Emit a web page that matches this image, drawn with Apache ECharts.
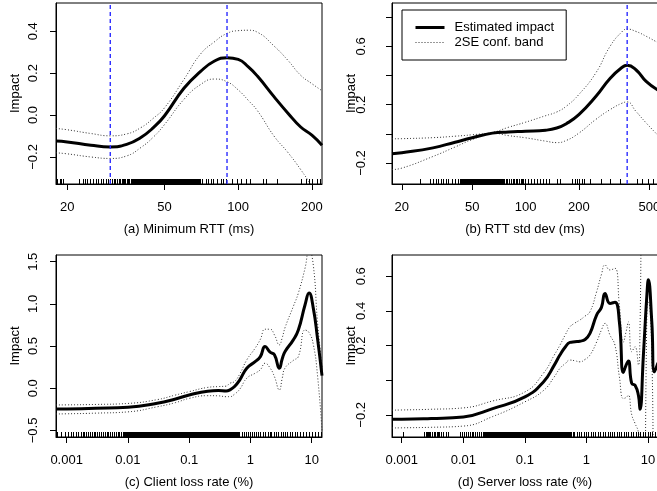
<!DOCTYPE html>
<html><head><meta charset="utf-8">
<script src="https://cdn.jsdelivr.net/npm/echarts@6/dist/echarts.min.js"></script>
<style>html,body{margin:0;padding:0;background:#fff}#c{width:657px;height:491px}</style>
</head><body><div id="c"></div>
<script>
// ---------- Panel (a) Minimum RTT ----------
const titleA = '(a) Minimum RTT (ms)';
const xA   = [18, 20, 25, 30, 35, 40, 45, 50, 60, 70, 80, 90, 100, 110, 120, 140, 160, 180, 200, 220];
const estA = [-0.124, -0.128, -0.144, -0.152, -0.14, -0.107, -0.06, -0.003, 0.128, 0.207, 0.258, 0.274, 0.266, 0.23, 0.185, 0.088, 0.008, -0.057, -0.096, -0.144];
const upA  = [-0.064, -0.07, -0.088, -0.099, -0.09, -0.06, -0.015, 0.035, 0.17, 0.29, 0.35, 0.39, 0.403, 0.405, 0.395, 0.33, 0.26, 0.19, 0.15, 0.116];
const loA  = [-0.18, -0.185, -0.2, -0.207, -0.195, -0.155, -0.105, -0.045, 0.075, 0.145, 0.172, 0.159, 0.12, 0.07, 0.02, -0.1, -0.18, -0.26, -0.34, -0.42];
const rugA = [18.0, 18.2, 18.7, 18.9, 19.3, 22.4, 23.1, 23.6, 24.2, 24.8, 25.4, 26.2, 26.8, 27.5, 28.1, 28.8, 29.4, 30.0, 30.5, 31.0, 31.5, 32.0, 32.5, 33.0, 33.6, 34.1, 34.6, 35.2, 35.7, 36.3, 36.8, 37.3, 37.8, 38.2, 38.7, 39.1, 39.6, 40.0, 40.5, 41.0, 41.5, 42.0, 42.5, 43.0, 43.5, 44.0, 44.5, 45.0, 45.5, 46.0, 46.5, 47.0, 47.5, 48.0, 48.6, 49.2, 49.8, 50.4, 51.0, 51.6, 52.2, 52.8, 53.4, 54.0, 54.6, 55.2, 55.8, 56.5, 57.2, 57.9, 58.6, 59.3, 60.0, 60.7, 61.4, 62.1, 62.8, 63.5, 64.2, 65.0, 65.8, 66.6, 67.4, 68.2, 69.0, 69.8, 71.3, 73.6, 75.2, 77.2, 79.1, 82.1, 84.8, 86.6, 88.9, 94.6, 98.5, 102.3, 107.3, 111.6, 126.6, 129.4, 143.5, 179.9, 188.5, 194.4, 200.6, 210.3, 215.8];
const refA = [30, 90];
const xTicksA = [20, 50, 100, 200];
const xLabelsA = ['20', '50', '100', '200'];
const yTicksA = [-0.2, 0, 0.2, 0.4];
const yLabelVA = [-0.2, 0, 0.2, 0.4];
const yLabelsA = ['\u22120.2', '0.0', '0.2', '0.4'];

// ---------- Panel (b) RTT std dev ----------
const titleB = '(b) RTT std dev (ms)';
const xB   = [17.6, 20, 30, 40, 50, 65, 80, 100, 130, 150, 170, 200, 250, 300, 350, 375, 420, 480, 560];
const estB = [-0.137, -0.13, -0.096, -0.057, -0.027, 0.005, 0.013, 0.018, 0.025, 0.04, 0.07, 0.132, 0.258, 0.38, 0.455, 0.47, 0.44, 0.36, 0.3];
const upB  = [-0.034, -0.033, -0.026, -0.016, -0.006, 0.01, 0.045, 0.08, 0.125, 0.15, 0.19, 0.27, 0.42, 0.6, 0.7, 0.719, 0.703, 0.67, 0.625];
const loB  = [-0.245, -0.235, -0.155, -0.09, -0.039, 0.005, -0.012, -0.027, -0.05, -0.06, -0.045, 0.005, 0.1, 0.166, 0.21, 0.219, 0.155, 0.075, -0.01];
const rugB = [25.3, 28.8, 30.1, 31.1, 32.1, 33.1, 34.2, 35.5, 36.5, 38.2, 39.9, 41.6, 42.5, 43.2, 43.9, 44.6, 45.3, 46.0, 46.7, 47.4, 48.2, 49.0, 49.8, 50.6, 51.4, 52.2, 53.0, 53.9, 54.8, 55.7, 56.6, 57.5, 58.5, 59.5, 60.5, 61.5, 62.5, 63.5, 64.6, 65.7, 66.8, 67.9, 69.0, 70.2, 71.4, 72.6, 73.8, 75.0, 76, 78, 79, 81, 83, 85, 86, 88, 90, 92, 94, 96, 97, 99.1, 103.4, 106.7, 111.4, 115.4, 120.4, 124.8, 130.3, 135.9, 149.6, 156.3, 181.9, 190, 195.9, 201.1, 207.2, 213.3, 230.7, 268.5, 299.5, 341, 423.6, 455.6, 493, 526];
const refB = [375];
const xTicksB = [20, 50, 100, 200, 500];
const xLabelsB = ['20', '50', '100', '200', '500'];
const yTicksB = [-0.2, 0, 0.2, 0.4, 0.6, 0.8];
const yLabelVB = [-0.2, 0.2, 0.6];
const yLabelsB = ['\u22120.2', '0.2', '0.6'];

// ---------- Panel (c) Client loss rate ----------
const titleC = '(c) Client loss rate (%)';
const xC   = [0.00067, 0.001, 0.003, 0.01, 0.03, 0.06, 0.1, 0.2, 0.3, 0.4, 0.46, 0.55, 0.67, 0.87, 1.19, 1.45, 1.73, 2.09, 2.46, 2.96, 3.3, 3.67, 5.0, 6.04, 7.78, 9.04, 10.6, 12.4, 14.7];
const estC = [-0.246, -0.245, -0.238, -0.226, -0.178, -0.127, -0.08, -0.035, -0.028, -0.032, -0.02, 0.02, 0.1, 0.237, 0.316, 0.375, 0.494, 0.427, 0.396, 0.237, 0.35, 0.435, 0.574, 0.69, 0.99, 1.128, 0.95, 0.594, 0.15];
const upC  = [-0.198, -0.197, -0.192, -0.18, -0.135, -0.08, -0.04, 0.01, 0.02, 0.025, 0.059, 0.08, 0.17, 0.336, 0.475, 0.58, 0.7, 0.7, 0.633, 0.514, 0.6, 0.72, 0.97, 1.128, 1.425, 1.65, 1.46, 0.79, 0.25];
const loC  = [-0.305, -0.303, -0.295, -0.28, -0.22, -0.17, -0.12, -0.088, -0.09, -0.1, -0.1, -0.07, -0.01, 0.119, 0.178, 0.22, 0.297, 0.24, 0.138, -0.02, 0.12, 0.24, 0.33, 0.375, 0.69, 0.66, 0.52, 0.158, -0.5];
const rugC = [0.00069, 0.00082, 0.00094, 0.00105, 0.00116, 0.00128, 0.00142, 0.00153, 0.0017, 0.00182, 0.00195, 0.0021, 0.00224, 0.0024, 0.00257, 0.00275, 0.00295, 0.00316, 0.0034, 0.00363, 0.0039, 0.00417, 0.00447, 0.0048, 0.00513, 0.0055, 0.0059, 0.0063, 0.0068, 0.0072, 0.0078, 0.0083, 0.0087, 0.0091, 0.0095, 0.01, 0.0105, 0.011, 0.0115, 0.012, 0.0126, 0.0132, 0.0138, 0.0145, 0.0151, 0.0158, 0.0166, 0.0174, 0.0182, 0.019, 0.02, 0.021, 0.022, 0.023, 0.024, 0.025, 0.026, 0.0275, 0.029, 0.03, 0.0315, 0.033, 0.0345, 0.036, 0.038, 0.04, 0.042, 0.044, 0.046, 0.048, 0.05, 0.0525, 0.055, 0.0575, 0.06, 0.063, 0.066, 0.069, 0.072, 0.076, 0.079, 0.083, 0.087, 0.091, 0.095, 0.1, 0.105, 0.11, 0.115, 0.12, 0.126, 0.132, 0.138, 0.145, 0.151, 0.158, 0.166, 0.174, 0.182, 0.19, 0.2, 0.21, 0.22, 0.23, 0.24, 0.25, 0.26, 0.275, 0.29, 0.3, 0.315, 0.33, 0.345, 0.36, 0.38, 0.4, 0.42, 0.44, 0.46, 0.48, 0.5, 0.525, 0.55, 0.575, 0.6, 0.63, 0.66, 0.72, 0.78, 0.84, 0.9, 0.98, 1.05, 1.15, 1.25, 1.35, 1.45, 1.6, 1.75, 1.9, 2.05, 2.2, 2.4, 2.6, 2.85, 3.1, 3.4, 3.7, 4.0, 4.4, 4.8, 5.3, 5.8, 6.5, 7.2, 8.1, 9.0, 10.2, 11.5, 12.8, 14.0];
const xTicksC = [0.001, 0.01, 0.1, 1, 10];
const xLabelsC = ['0.001', '0.01', '0.1', '1', '10'];
const yTicksC = [-0.5, 0, 0.5, 1, 1.5];
const yLabelVC = [-0.5, 0, 0.5, 1, 1.5];
const yLabelsC = ['\u22120.5', '0.0', '0.5', '1.0', '1.5'];

// ---------- Panel (d) Server loss rate ----------
const titleD = '(d) Server loss rate (%)';
const xD   = [0.000695, 0.001, 0.003, 0.01, 0.03, 0.1, 0.2, 0.3, 0.37, 0.45, 0.54, 0.65, 0.78, 0.95, 1.14, 1.46, 1.75, 2.0, 2.41, 2.9, 3.42, 3.97, 4.4, 4.79, 5.43, 6.15, 6.97, 7.4, 8.4, 9.6, 10.1, 11.5, 12.7, 14.5];
const estD = [-0.225, -0.225, -0.221, -0.212, -0.164, -0.096, -0.01, 0.087, 0.145, 0.19, 0.218, 0.222, 0.225, 0.235, 0.27, 0.376, 0.42, 0.5, 0.443, 0.45, 0.337, 0.045, 0.087, 0.11, -0.019, -0.029, -0.087, -0.168, 0.145, 0.5, 0.58, 0.337, 0.048, 0.1];
const upD  = [-0.173, -0.172, -0.168, -0.16, -0.12, -0.068, 0.04, 0.145, 0.202, 0.26, 0.308, 0.33, 0.347, 0.37, 0.395, 0.51, 0.61, 0.665, 0.636, 0.646, 0.434, 0.22, 0.28, 0.337, 0.164, 0.193, 0.087, 0.3, 1.6, 1.6, 1.6, 1.6, 1.4, 1.4];
const loD  = [-0.276, -0.275, -0.272, -0.265, -0.21, -0.125, -0.06, 0.019, 0.068, 0.095, 0.116, 0.112, 0.106, 0.12, 0.145, 0.22, 0.29, 0.328, 0.26, 0.202, 0.02, -0.106, -0.1, -0.087, -0.2, -0.25, -0.3, -0.4, -1.2, 0.42, 0.45, 0.15, -1.0, -1.2];
const rugD = [0.00105, 0.0023, 0.00245, 0.0026, 0.00275, 0.0029, 0.0031, 0.0033, 0.0035, 0.0038, 0.004, 0.0043, 0.0046, 0.0052, 0.0056, 0.0088, 0.0095, 0.0102, 0.011, 0.0118, 0.0127, 0.0136, 0.0146, 0.0157, 0.0168, 0.018, 0.0193, 0.0205, 0.0215, 0.0225, 0.0235, 0.0245, 0.0255, 0.0268, 0.028, 0.0295, 0.031, 0.0325, 0.034, 0.0355, 0.037, 0.039, 0.041, 0.043, 0.045, 0.047, 0.049, 0.0515, 0.054, 0.0565, 0.059, 0.062, 0.065, 0.068, 0.071, 0.0745, 0.078, 0.0815, 0.085, 0.089, 0.093, 0.097, 0.102, 0.107, 0.112, 0.117, 0.123, 0.129, 0.135, 0.141, 0.148, 0.155, 0.162, 0.17, 0.178, 0.186, 0.195, 0.204, 0.214, 0.224, 0.234, 0.245, 0.257, 0.269, 0.282, 0.295, 0.309, 0.324, 0.339, 0.355, 0.372, 0.39, 0.408, 0.427, 0.447, 0.468, 0.49, 0.513, 0.537, 0.562, 0.6, 0.63, 0.69, 0.75, 0.82, 0.9, 0.98, 1.07, 1.17, 1.28, 1.4, 1.53, 1.67, 1.83, 2.0, 2.2, 2.4, 2.6, 2.85, 3.1, 3.4, 3.7, 4.05, 4.4, 4.8, 5.3, 5.8, 6.3, 6.9, 7.5, 8.2, 9.0, 9.8, 10.7, 11.7, 12.8, 14.0];
const xTicksD = [0.001, 0.01, 0.1, 1, 10];
const xLabelsD = ['0.001', '0.01', '0.1', '1', '10'];
const yTicksD = [-0.2, 0, 0.2, 0.4, 0.6];
const yLabelVD = [-0.2, 0.2, 0.4, 0.6];
const yLabelsD = ['\u22120.2', '0.2', '0.4', '0.6'];

const legendNames = ['Estimated impact', '2SE conf. band'];
const yTitle = 'Impact';

// ---------- layout / styling ----------
const FONT = "'Liberation Sans', Arial, Helvetica, sans-serif";
const panels = [
  {x: xA, est: estA, up: upA, lo: loA, rug: rugA, refs: refA, title: titleA, xr: [18, 220], yr: [-0.329, 0.535],
   xt: xTicksA, xl: xLabelsA, yt: yTicksA, ylv: yLabelVA, yl: yLabelsA, grid: {left: 56, right: 335, top: 3, height: 181}, ylm: 16, yng: 34},
  {x: xB, est: estB, up: upB, lo: loB, rug: rugB, refs: refB, title: titleB, xr: [17.6, 560], yr: [-0.344, 0.898],
   xt: xTicksB, xl: xLabelsB, yt: yTicksB, ylv: yLabelVB, yl: yLabelsB, grid: {left: 392, right: -1, top: 3, height: 181}, ylm: 24, yng: 34},
  {x: xC, est: estC, up: upC, lo: loC, rug: rugC, refs: [], title: titleC, xr: [0.00067, 14.7], yr: [-0.578, 1.58],
   xt: xTicksC, xl: xLabelsC, yt: yTicksC, ylv: yLabelVC, yl: yLabelsC, grid: {left: 56, right: 335, top: 255, height: 182}, ylm: 16, yng: 34},
  {x: xD, est: estD, up: upD, lo: loD, rug: rugD, refs: [], title: titleD, xr: [0.000695, 14.5], yr: [-0.328, 0.7225],
   xt: xTicksD, xl: xLabelsD, yt: yTicksD, ylv: yLabelVD, yl: yLabelsD, grid: {left: 392, right: -1, top: 255, height: 182}, ylm: 24, yng: 34}
];

function lookup(vals, labels, v, rel) {
  for (let i = 0; i < vals.length; i++) {
    const t = vals[i];
    const tol = rel ? Math.abs(t) * 1e-6 : 1e-9;
    if (Math.abs(t - v) <= tol) return labels[i];
  }
  return '';
}

const BLUE = '#2d2dff';
const grids = [], xAxes = [], yAxes = [], series = [];
panels.forEach((p, i) => {
  grids.push(Object.assign({show: true, borderColor: '#000', borderWidth: 1, backgroundColor: 'transparent',
                            outerBoundsMode: 'none', containLabel: false}, p.grid));
  xAxes.push({
    type: 'log', logBase: 10, gridIndex: i, min: p.xr[0], max: p.xr[1],
    axisLine: {show: true, onZero: false, lineStyle: {color: '#000', width: 1}},
    axisTick: {show: true, length: 6, customValues: p.xt, lineStyle: {color: '#000', width: 1}},
    axisLabel: {customValues: p.xt, margin: 17, fontSize: 13, color: '#000', fontFamily: FONT,
                formatter: v => lookup(p.xt, p.xl, v, true)},
    minorTick: {show: false}, splitLine: {show: false},
    name: p.title, nameLocation: 'middle', nameGap: 39, nameMoveOverlap: false,
    nameTextStyle: {fontSize: 13, color: '#000', fontFamily: FONT}
  });
  yAxes.push({
    type: 'value', gridIndex: i, min: p.yr[0], max: p.yr[1],
    axisLine: {show: true, onZero: false, lineStyle: {color: '#000', width: 1}},
    axisTick: {show: true, length: 6, customValues: p.yt, lineStyle: {color: '#000', width: 1}},
    axisLabel: {customValues: p.ylv, rotate: 90, margin: p.ylm, fontSize: 13, color: '#000', fontFamily: FONT,
                formatter: v => lookup(p.ylv, p.yl, v, false)},
    splitLine: {show: false},
    name: yTitle, nameLocation: 'middle', nameGap: p.yng, nameMoveOverlap: false,
    nameTextStyle: {fontSize: 13, color: '#000', fontFamily: FONT}
  });
  const band = {type: 'line', xAxisIndex: i, yAxisIndex: i, symbol: 'none', smooth: 0.5,
    name: legendNames[1], itemStyle: {color: '#333'}, lineStyle: {color: '#333', width: 1, type: [1, 2]}, silent: true, z: 2};
  series.push(Object.assign({}, band, {data: p.x.map((x, k) => [x, p.up[k]])}));
  series.push(Object.assign({}, band, {data: p.x.map((x, k) => [x, p.lo[k]])}));
  series.push({
    type: 'line', xAxisIndex: i, yAxisIndex: i, symbol: 'none', smooth: 0.5,
    name: legendNames[0], itemStyle: {color: '#000'}, lineStyle: {color: '#000', width: 3}, silent: true, z: 3,
    data: p.x.map((x, k) => [x, p.est[k]])
  });
  const yMin = p.yr[0], yMax = p.yr[1];
  const rug = p.rug;
  series.push({
    type: 'custom', xAxisIndex: i, yAxisIndex: i, name: 'rug' + i, silent: true, clip: true, z: 4,
    itemStyle: {color: '#000'}, progressive: 0,
    data: rug.map(v => [v, yMin]),
    renderItem: (params, api) => {
      const k = params.dataIndex;
      const pt = api.coord([api.value(0), api.value(1)]);
      const px = Math.round(pt[0]);
      let w = 1;
      if (k + 1 < rug.length) {
        const nf = api.coord([rug[k + 1], yMin])[0];
        if (nf - pt[0] < 1.6) w = Math.max(1, Math.round(nf) - px);
      }
      return {type: 'rect', shape: {x: px, y: Math.round(pt[1]) - 5, width: w, height: 5},
              style: {fill: '#000', stroke: null}};
    }
  });
  if (p.refs.length) {
    series.push({
      type: 'custom', xAxisIndex: i, yAxisIndex: i, name: 'ref' + i, silent: true, clip: true, z: 10,
      itemStyle: {color: BLUE},
      data: p.refs.map(v => [v, yMin, yMax]),
      renderItem: (params, api) => {
        const a = api.coord([api.value(0), api.value(1)]);
        const b = api.coord([api.value(0), api.value(2)]);
        return {type: 'line', z2: 100, shape: {x1: a[0], y1: a[1], x2: a[0], y2: b[1]},
                style: {stroke: BLUE, lineWidth: 1.4, lineDash: [4, 3], fill: null, opacity: 1}};
      }
    });
  }
});

const option = {
  animation: false,
  backgroundColor: '#fff',
  textStyle: {fontFamily: FONT},
  grid: grids, xAxis: xAxes, yAxis: yAxes, series: series,
  legend: {
    left: 402, top: 10, orient: 'vertical', selectedMode: false,
    padding: [11, 12, 11, 12], itemWidth: 29, itemHeight: 14, itemGap: 2,
    borderColor: '#000', borderWidth: 1, backgroundColor: '#fff',
    itemStyle: {opacity: 0},
    textStyle: {fontSize: 13, color: '#000', fontFamily: FONT, padding: [0, 0, 0, 5]},
    data: [
      {name: legendNames[0], itemStyle: {opacity: 0}, lineStyle: {width: 3, color: '#000'}},
      {name: legendNames[1], itemStyle: {opacity: 0}, lineStyle: {width: 1, color: '#333', type: [1, 2]}}
    ]
  }
};
const chart = echarts.init(document.getElementById('c'), null, {renderer: 'canvas'});
chart.setOption(option);
</script></body></html>
